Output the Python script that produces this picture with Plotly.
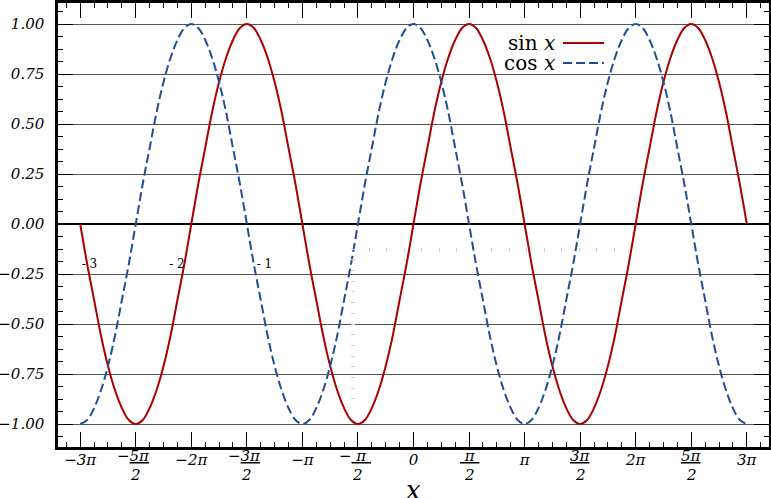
import plotly.graph_objects as go

# x positions in units of pi (every pi/16)
x_pi = [i / 16 for i in range(-48, 49)]
sin_vals = [
    0, -0.20, -0.38, -0.56, -0.71, -0.83, -0.92, -0.98, -1, -0.98, -0.92, -0.83, -0.71, -0.56, -0.38, -0.20,
    0, 0.20, 0.38, 0.56, 0.71, 0.83, 0.92, 0.98, 1, 0.98, 0.92, 0.83, 0.71, 0.56, 0.38, 0.20,
    0, -0.20, -0.38, -0.56, -0.71, -0.83, -0.92, -0.98, -1, -0.98, -0.92, -0.83, -0.71, -0.56, -0.38, -0.20,
    0, 0.20, 0.38, 0.56, 0.71, 0.83, 0.92, 0.98, 1, 0.98, 0.92, 0.83, 0.71, 0.56, 0.38, 0.20,
    0, -0.20, -0.38, -0.56, -0.71, -0.83, -0.92, -0.98, -1, -0.98, -0.92, -0.83, -0.71, -0.56, -0.38, -0.20,
    0, 0.20, 0.38, 0.56, 0.71, 0.83, 0.92, 0.98, 1, 0.98, 0.92, 0.83, 0.71, 0.56, 0.38, 0.20,
    0]
cos_vals = [
    -1, -0.98, -0.92, -0.83, -0.71, -0.56, -0.38, -0.20, 0, 0.20, 0.38, 0.56, 0.71, 0.83, 0.92, 0.98,
    1, 0.98, 0.92, 0.83, 0.71, 0.56, 0.38, 0.20, 0, -0.20, -0.38, -0.56, -0.71, -0.83, -0.92, -0.98,
    -1, -0.98, -0.92, -0.83, -0.71, -0.56, -0.38, -0.20, 0, 0.20, 0.38, 0.56, 0.71, 0.83, 0.92, 0.98,
    1, 0.98, 0.92, 0.83, 0.71, 0.56, 0.38, 0.20, 0, -0.20, -0.38, -0.56, -0.71, -0.83, -0.92, -0.98,
    -1, -0.98, -0.92, -0.83, -0.71, -0.56, -0.38, -0.20, 0, 0.20, 0.38, 0.56, 0.71, 0.83, 0.92, 0.98,
    1, 0.98, 0.92, 0.83, 0.71, 0.56, 0.38, 0.20, 0, -0.20, -0.38, -0.56, -0.71, -0.83, -0.92, -0.98,
    -1]

x_tickvals = [-3, -2.5, -2, -1.5, -1, -0.5, 0, 0.5, 1, 1.5, 2, 2.5, 3]
x_ticktext = ["−3π", "", "−2π", "", "−π", "", "0", "", "π", "", "2π", "", "3π"]
x_frac_vals = [-2.5, -1.5, -0.5, 0.5, 1.5, 2.5]
x_frac_num = ["−<u>5π</u>&nbsp;", "−<u>3π</u>&nbsp;", "−<u>&nbsp;π&nbsp;</u>&nbsp;",
              "<u>&nbsp;π&nbsp;</u>", "<u>3π</u>", "<u>5π</u>"]
x_frac_den = ["2", "2", "2", "2", "2", "2"]
y_tickvals = [-1, -0.75, -0.5, -0.25, 0, 0.25, 0.5, 0.75, 1]
y_ticktext = ["−1.00", "−0.75", "−0.50", "−0.25", "0.00", "0.25", "0.50", "0.75", "1.00"]
series_names = ["sin <i>x</i>", "cos <i>x</i>"]
x_title = "<i>x</i>"
# stray inner axis seen in the reference (labels on the left, faint ticks to the right)
stray_vals = [-3, -2, -1]
stray_text = ["- 3", "- 2", "- 1"]
faint_x_ticks = [0.2, 0.4, 0.6, 0.8, 1.0, 1.2, 1.4, 1.6, 1.8, 2.0, 2.2, 2.4, 2.6, 2.8, 3.0]
faint_y_ticks = [-0.04, -0.24, -0.44, -0.64, -0.84, -1.04, -1.24, -1.44, -1.64, -1.84,
                 -2.04, -2.24, -2.44, -2.64, -2.84]

RED = "#aa0000"
BLUE = "#1f4e96"
FAINT = "#d0d0d0"
SERIF = "DejaVu Serif"
XR = [-3.2, 3.2]
YR = [-1.115, 1.105]
INNER_XR = [-3.36, 4.766]
INNER_YR = [-3.738, 4.56]

fig = go.Figure()
fig.add_trace(go.Scatter(x=x_pi, y=sin_vals, mode="lines", line=dict(color=RED, width=2, shape="spline"),
                         name="sin", showlegend=False, hoverinfo="skip"))
fig.add_trace(go.Scatter(x=x_pi, y=cos_vals, mode="lines",
                         line=dict(color=BLUE, width=2, shape="spline", dash="9px,4px"),
                         name="cos", showlegend=False, hoverinfo="skip"))
# empty helper traces so the inner (stray) axes get drawn
fig.add_trace(go.Scatter(x=[], y=[], xaxis="x4", yaxis="y3", showlegend=False, hoverinfo="skip"))
fig.add_trace(go.Scatter(x=[], y=[], xaxis="x5", yaxis="y3", showlegend=False, hoverinfo="skip"))

tickfont = dict(family=SERIF, size=15, color="black", style="italic")

fig.update_layout(
    width=771, height=498, margin=dict(l=58, r=2, t=3, b=51),
    paper_bgcolor="white", plot_bgcolor="white", template="none",
    showlegend=False,
    xaxis=dict(range=XR, tickmode="array", tickvals=x_tickvals, ticktext=x_ticktext, ticks="inside",
               ticklen=15, tickcolor="black", tickwidth=1, showgrid=False, zeroline=False,
               showline=True, linecolor="black", linewidth=2.5, mirror="ticks",
               tickfont=tickfont, ticklabelstandoff=-3,
               minor=dict(dtick=0.125, tick0=0, ticks="inside", ticklen=5, tickcolor="black", showgrid=False),
               automargin=False, layer="above traces"),
    xaxis2=dict(type="linear", range=XR, overlaying="x", matches="x", anchor="y", dtick=0.25, tick0=0,
                ticks="inside", ticklen=10, tickcolor="black", showticklabels=False, showgrid=False,
                zeroline=False, showline=False, mirror="ticks", automargin=False),
    xaxis3=dict(type="linear", range=XR, overlaying="x", matches="x", anchor="y", dtick=1, tick0=0, ticks="",
                showticklabels=False, showgrid=True, gridcolor="#555555", gridwidth=1,
                zeroline=True, zerolinecolor="black", zerolinewidth=2, showline=False,
                layer="below traces", automargin=False),
    xaxis4=dict(type="linear", range=INNER_XR, overlaying="x", anchor="free", position=0.4505, side="bottom",
                tickmode="array", tickvals=faint_x_ticks, ticks="outside", ticklen=4, tickcolor=FAINT,
                showticklabels=False, showgrid=False, zeroline=False, showline=False, automargin=False),
    xaxis5=dict(type="linear", range=INNER_XR, overlaying="x", anchor="free", position=0.4505, side="bottom",
                tickmode="array", tickvals=stray_vals, ticktext=stray_text, ticks="", ticklabelstandoff=8,
                tickfont=dict(family=SERIF, size=12, color="black"),
                showgrid=False, zeroline=False, showline=False, automargin=False),
    yaxis=dict(range=YR, tickmode="array", tickvals=y_tickvals, ticktext=y_ticktext, ticks="inside",
               ticklen=15, tickcolor="black", showgrid=True, gridcolor="#555555", gridwidth=1,
               zeroline=True, zerolinecolor="black", zerolinewidth=2,
               showline=True, linecolor="black", linewidth=2.5, mirror="ticks",
               tickfont=tickfont, ticklabelstandoff=8,
               minor=dict(dtick=0.0625, tick0=0, ticks="inside", ticklen=5, tickcolor="black", showgrid=False),
               automargin=False),
    yaxis2=dict(type="linear", range=YR, overlaying="y", matches="y", anchor="x", dtick=0.125, tick0=0,
                ticks="inside", ticklen=11, tickcolor="black", showticklabels=False, showgrid=False,
                zeroline=False, showline=False, mirror="ticks", automargin=False),
    yaxis3=dict(type="linear", range=INNER_YR, overlaying="y", anchor="free", position=0.4178, side="left",
                tickmode="array", tickvals=faint_y_ticks, ticks="outside", ticklen=4, tickcolor=FAINT,
                showticklabels=False, showgrid=False, zeroline=False, showline=False, automargin=False),
)

# fraction labels (numerator with bar, then denominator) under the half-pi ticks
for val, num, den in zip(x_frac_vals, x_frac_num, x_frac_den):
    fig.add_annotation(x=val, y=-0.0203, xref="x", yref="paper", xanchor="center", yanchor="middle",
                       text=num, showarrow=False, font=tickfont)
    fig.add_annotation(x=val, y=-0.063, xref="x", yref="paper", xanchor="center", yanchor="middle",
                       text=den, showarrow=False, font=tickfont)

# x axis title
fig.add_annotation(x=0.5, y=-0.097, xref="paper", yref="paper", xanchor="center", yanchor="middle",
                   text=x_title, showarrow=False, font=dict(family=SERIF, size=26, color="black"))

# legend drawn as text + sample lines (text left of the line, as in the reference)
leg_y = [0.91, 0.865]
for name, col, dash, ly in zip(series_names, [RED, BLUE], ["solid", "9px,4px"], leg_y):
    fig.add_annotation(x=(557 - 58) / 711, y=ly, xref="paper", yref="paper", xanchor="right",
                       yanchor="middle", text=name, showarrow=False,
                       font=dict(family=SERIF, size=20, color="black"))
    fig.add_shape(type="line", xref="paper", yref="paper", x0=(563 - 58) / 711, x1=(604 - 58) / 711,
                  y0=ly, y1=ly, line=dict(color=col, width=2, dash=dash))

fig.write_html("out.html", config={"displayModeBar": False},
               post_script="document.body.style.margin='0';document.body.style.overflow='hidden';")
